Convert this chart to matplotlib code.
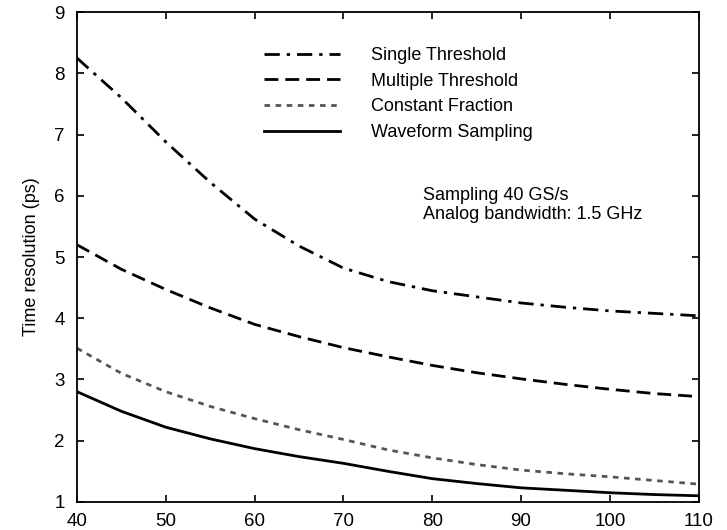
import numpy as np
import matplotlib.pyplot as plt

plt.rcParams['font.family'] = ['Liberation Sans', 'DejaVu Sans']

# data to plot
bandwidth = [40, 45, 50, 55, 60, 65, 70, 75, 80, 85, 90, 95, 100, 105, 110]
single = [8.25, 7.6, 6.88, 6.22, 5.62, 5.18, 4.82, 4.6, 4.45, 4.35, 4.25, 4.18, 4.12, 4.08, 4.04]
multiple = [5.2, 4.8, 4.47, 4.17, 3.9, 3.7, 3.52, 3.37, 3.23, 3.11, 3.01, 2.92, 2.84, 2.77, 2.72]
constant = [3.51, 3.1, 2.8, 2.56, 2.36, 2.18, 2.02, 1.85, 1.72, 1.61, 1.52, 1.46, 1.41, 1.35, 1.29]
waveform = [2.8, 2.48, 2.22, 2.03, 1.87, 1.74, 1.63, 1.5, 1.38, 1.3, 1.23, 1.19, 1.15, 1.12, 1.1]
labels = ['Single Threshold', 'Multiple Threshold', 'Constant Fraction', 'Waveform Sampling']

fig = plt.figure(figsize=(7.27, 5.30), dpi=100)
ax = fig.add_axes([0.106, 0.053, 0.855, 0.924])

ax.plot(bandwidth, single, color='black', lw=2, linestyle=(0, (5.5, 2.5, 1.2, 2.5)), label=labels[0])
ax.plot(bandwidth, multiple, color='black', lw=2, linestyle=(0, (5, 2.5)), label=labels[1])
ax.plot(bandwidth, constant, color='#555555', lw=2, linestyle=(0, (2, 2)), label=labels[2])
ax.plot(bandwidth, waveform, color='black', lw=2, linestyle='-', label=labels[3])

ax.set_xlim(40, 110)
ax.set_ylim(1, 9)
ax.set_xticks(np.arange(40, 111, 10))
ax.set_yticks(np.arange(1, 10, 1))
ax.tick_params(direction='in', top=True, right=True, labelsize=13.5, length=5, width=1.2)
ax.tick_params(axis='y', pad=9)
ax.tick_params(axis='x', pad=8)
for s in ax.spines.values():
    s.set_linewidth(1.3)
ax.set_ylabel('Time resolution (ps)', fontsize=13, labelpad=10)

leg = ax.legend(loc='upper left', bbox_to_anchor=(0.275, 0.962), frameon=False,
                fontsize=13, handlelength=4.2, handletextpad=1.7, labelspacing=0.48)

ax.text(0.556, 0.644, 'Sampling 40 GS/s\nAnalog bandwidth: 1.5 GHz', transform=ax.transAxes,
        fontsize=13, va='top', ha='left')

plt.savefig('out.png', dpi=100)
